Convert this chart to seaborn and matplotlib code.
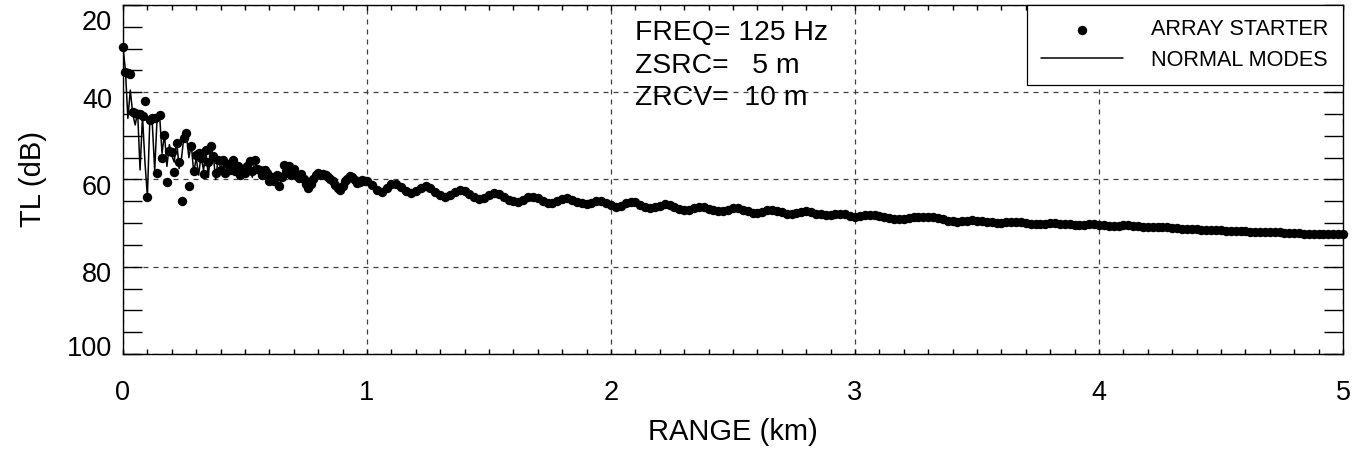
import numpy as np
import pandas as pd
import matplotlib
matplotlib.use('Agg')
import matplotlib.pyplot as plt
import matplotlib.transforms as mtransforms
import seaborn as sns

sns.set_style('ticks')
plt.rcParams['font.family'] = ['Liberation Sans', 'DejaVu Sans']
plt.rcParams['text.color'] = 'black'
plt.rcParams['axes.labelcolor'] = 'black'
plt.rcParams['xtick.color'] = 'black'
plt.rcParams['ytick.color'] = 'black'

# transmission loss (dB)
# near field, 0.00 - 0.99 km every 0.01 km
tl_starter_near = [
    29.6, 35.4, 35.5, 35.8, 44.5, 44.8, 44.9, 45.0, 45.5, 42.0,
    63.9, 46.3, 45.8, 45.9, 58.5, 45.2, 55.0, 49.7, 60.6, 53.5,
    53.8, 58.2, 51.6, 56.0, 65.0, 50.5, 49.3, 61.6, 52.4, 58.0,
    54.3, 54.0, 55.0, 58.7, 53.2, 56.0, 52.4, 54.7, 58.5, 55.5,
    57.8, 55.5, 58.5, 56.5, 57.8, 55.5, 58.0, 57.0, 59.0, 57.5,
    58.5, 57.0, 55.8, 58.0, 55.5, 57.5, 57.8, 59.0, 57.8, 58.5,
    60.4, 59.5, 60.4, 59.0, 61.6, 59.5, 56.6, 58.5, 57.0, 59.0,
    57.5, 59.0, 59.6, 58.8, 60.0, 61.0, 61.9, 61.0, 60.0, 59.0,
    58.5, 59.0, 58.8, 58.9, 59.5, 60.0, 60.4, 61.2, 62.0, 62.4,
    61.5, 60.4, 59.8, 59.3, 59.5, 60.2, 60.8, 60.6, 60.2, 60.4,
]
# normal modes differ from the starter only in the first 0.6 km
tl_modes_near = [
    29.6, 35.0, 46.0, 39.5, 45.0, 47.5, 44.5, 57.8, 45.5, 56.0,
    63.9, 46.3, 47.0, 58.0, 45.5, 45.2, 54.0, 49.5, 57.0, 52.0,
    54.5, 56.0, 51.0, 57.5, 55.0, 50.0, 49.8, 55.0, 52.0, 58.5,
    55.0, 59.0, 54.5, 58.0, 53.5, 59.5, 52.5, 54.5, 60.0, 55.0,
    57.5, 56.0, 59.0, 56.0, 58.0, 55.5, 59.0, 57.0, 59.5, 57.5,
    59.0, 57.0, 56.0, 59.5, 55.5, 58.0, 58.0, 59.0, 57.5, 59.0,
]
# far field, 1.00 - 5.00 km every 0.02 km (both solutions agree)
tl_far = [
    60.4, 61.2, 62.3, 62.8, 62.0, 61.0, 61.0, 61.8, 62.7, 63.1,
    62.7, 62.0, 61.6, 62.0, 62.8, 63.6, 63.9, 63.5, 62.8, 62.4,
    62.7, 63.4, 64.1, 64.5, 64.2, 63.5, 63.1, 63.4, 64.0, 64.6,
    65.0, 65.1, 64.6, 64.0, 63.9, 64.3, 64.9, 65.3, 65.4, 65.0,
    64.4, 64.3, 64.7, 65.2, 65.5, 65.6, 65.3, 64.9, 64.9, 65.4,
    65.9, 66.2, 66.0, 65.5, 65.1, 65.2, 65.8, 66.3, 66.6, 66.4,
    66.0, 65.7, 65.8, 66.3, 66.7, 67.0, 66.9, 66.5, 66.2, 66.3,
    66.7, 67.1, 67.3, 67.2, 66.9, 66.6, 66.6, 66.9, 67.3, 67.6,
    67.7, 67.5, 67.1, 67.0, 67.2, 67.5, 67.8, 67.9, 67.7, 67.4,
    67.3, 67.5, 67.8, 68.0, 68.1, 68.1, 67.9, 67.8, 68.0, 68.4,
    68.5, 68.4, 68.2, 68.1, 68.1, 68.3, 68.6, 68.9, 69.0, 69.1,
    69.0, 68.8, 68.7, 68.6, 68.6, 68.6, 68.6, 68.8, 69.1, 69.4,
    69.6, 69.7, 69.6, 69.4, 69.3, 69.4, 69.5, 69.7, 69.8, 69.9,
    69.9, 69.8, 69.7, 69.7, 69.8, 70.0, 70.1, 70.2, 70.2, 70.1,
    70.0, 70.0, 70.1, 70.2, 70.3, 70.4, 70.4, 70.4, 70.3, 70.3,
    70.4, 70.5, 70.6, 70.6, 70.6, 70.5, 70.5, 70.6, 70.7, 70.8,
    70.8, 70.9, 71.0, 71.0, 71.0, 71.1, 71.2, 71.3, 71.3, 71.3,
    71.4, 71.5, 71.6, 71.6, 71.6, 71.6, 71.7, 71.8, 71.8, 71.8,
    71.9, 72.0, 72.0, 72.0, 72.0, 72.1, 72.1, 72.1, 72.2, 72.2,
    72.3, 72.3, 72.4, 72.4, 72.4, 72.5, 72.5, 72.5, 72.6, 72.6,
    72.6,
]

range_near = np.arange(len(tl_starter_near)) * 0.01
range_far = np.linspace(1.0, 5.0, len(tl_far))

tl_starter = tl_starter_near + tl_far
tl_modes = tl_modes_near + tl_starter_near[len(tl_modes_near):] + tl_far

df = pd.DataFrame({
    'range': np.concatenate([range_near, range_far]),
    'starter': tl_starter,
    'modes': tl_modes,
})

fig, ax = plt.subplots(figsize=(13.53, 4.51), dpi=100)
fig.subplots_adjust(left=0.0909, right=0.9926, top=0.989, bottom=0.215)

sns.lineplot(data=df, x='range', y='modes', estimator=None, sort=False,
             color='black', lw=1.1, label='NORMAL MODES', ax=ax, zorder=3)
sns.scatterplot(data=df, x='range', y='starter', color='black', s=46,
                linewidth=0, label='ARRAY STARTER', ax=ax, zorder=4, clip_on=False)

ax.set_xlim(0, 5)
ax.set_ylim(100, 20)
ax.set_xticks(range(0, 6))
ax.set_xticks(np.arange(0, 5.01, 0.1), minor=True)
ax.set_yticks([20, 40, 60, 80, 100])
ax.set_yticks(np.arange(20, 101, 5), minor=True)

for s in ax.spines.values():
    s.set_visible(True)
    s.set_color('black')
    s.set_linewidth(1.0)

ax.tick_params(axis='both', which='both', direction='in', top=True, right=True,
               color='black', width=1.0)
ax.tick_params(axis='x', which='both', length=3.6, pad=19, labelsize=19.5)
ax.tick_params(axis='y', which='both', length=13.5, pad=8, labelsize=19.5)

# IDL-style: end labels sit inside the axis range
shifts = {20: -11, 40: -4, 60: -4, 80: -4, 100: 6}
for val, lab in zip([20, 40, 60, 80, 100], ax.get_yticklabels()):
    off = mtransforms.ScaledTranslation(0, shifts[val] / 72, fig.dpi_scale_trans)
    lab.set_transform(lab.get_transform() + off)

ax.grid(True, which='major', linestyle=(0, (4, 4)), color='0.25', lw=0.9)
ax.set_axisbelow(True)

ax.set_xlabel('RANGE (km)', fontsize=21, labelpad=8.5)
ax.set_ylabel('TL (dB)', fontsize=21, labelpad=14)

ax.text(0.4197, 0.900, 'FREQ= 125 Hz', transform=ax.transAxes, fontsize=20.4, va='baseline')
ax.text(0.4197, 0.804, 'ZSRC=   5 m', transform=ax.transAxes, fontsize=20.4, va='baseline')
ax.text(0.4197, 0.713, 'ZRCV=  10 m', transform=ax.transAxes, fontsize=20.4, va='baseline')

h, l = ax.get_legend_handles_labels()
order = [l.index('ARRAY STARTER'), l.index('NORMAL MODES')]
leg = ax.legend([h[i] for i in order], [l[i] for i in order], loc='upper right',
                borderaxespad=0, fancybox=False, edgecolor='black', fontsize=15.6,
                handlelength=3.8, handletextpad=1.3, borderpad=0.66, labelspacing=0.45,
                framealpha=1)
leg.get_frame().set_linewidth(0.9)

fig.savefig('out.png', dpi=100)
